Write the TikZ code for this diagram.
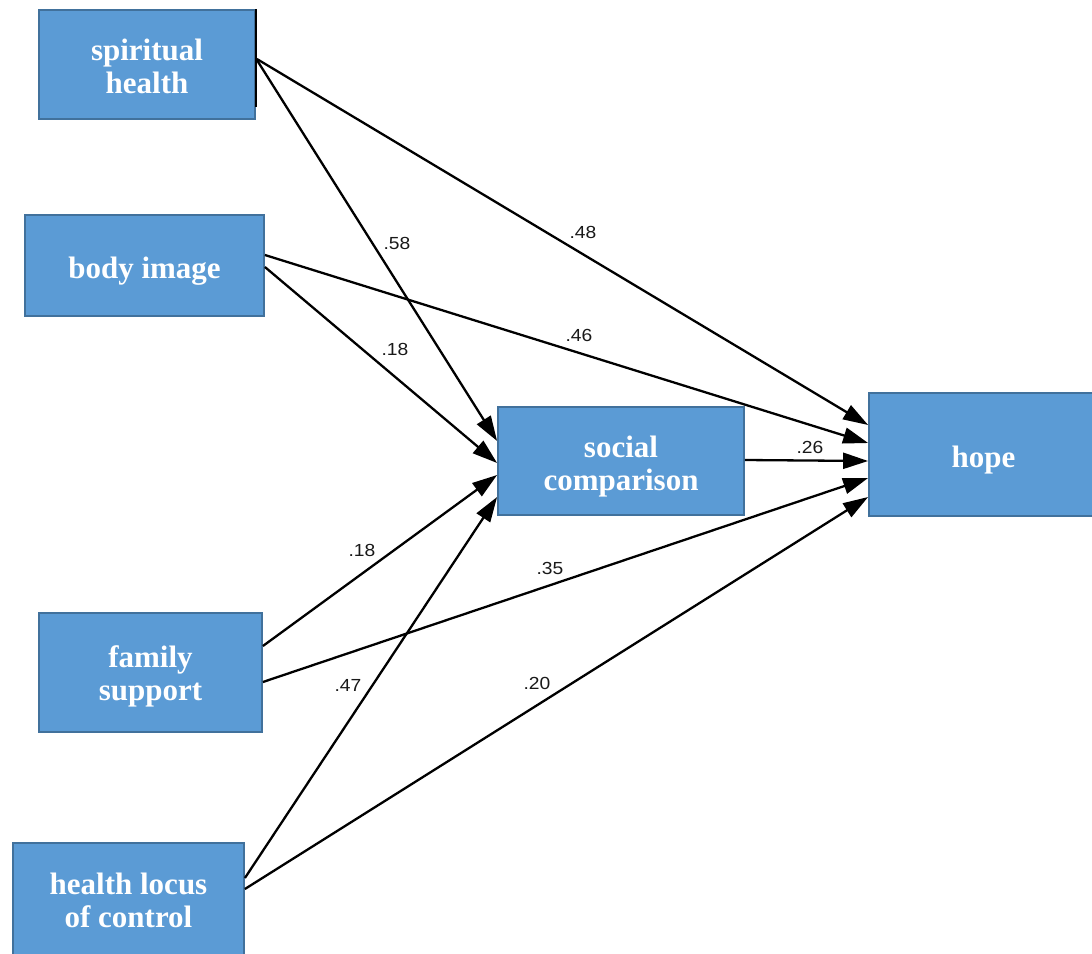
\documentclass[tikz,border=0pt]{standalone}
\usepackage{fontspec}
\setmainfont{Liberation Serif}
\newfontfamily\labelfont{Liberation Sans}
\usetikzlibrary{arrows.meta,calc}
\definecolor{boxfill}{HTML}{5B9BD5}
\definecolor{boxline}{HTML}{41719C}
\begin{document}
\begin{tikzpicture}[x=1pt,y=-1pt,
  varbox/.style={draw=boxline, fill=boxfill, line width=1.8pt, inner sep=0pt},
  vartext/.style={text=white, font=\fontsize{31}{33}\selectfont\bfseries, align=center, inner sep=0pt},
  path/.style={draw=black, line width=2.3pt, -{Triangle[length=25pt,width=16pt]}},
  coef/.style={font=\labelfont\fontsize{17.5}{17.5}\selectfont, text=black!90, xscale=1.1, inner sep=0pt}]
\useasboundingbox (0,0) rectangle (1092,953);
\clip (0,0) rectangle (1092,953);
\fill[white] (0,0) rectangle (1092,953);

\node[varbox, minimum width=216pt, minimum height=109pt] (sp) at (147,64.5) {};
\draw[black, line width=2pt] (256,9) -- (256,107);
\node[varbox, minimum width=239pt, minimum height=101pt] (bi) at (144.5,265.5) {};
\node[varbox, minimum width=246pt, minimum height=108pt] (sc) at (621,461) {};
\node[varbox, minimum width=229pt, minimum height=123pt] (hope) at (983.5,454.5) {};
\node[varbox, minimum width=223pt, minimum height=119pt] (fs) at (150.5,672.5) {};
\node[varbox, minimum width=231pt, minimum height=117pt] (hl) at (128.5,901.5) {};

\node[vartext] (spt) at ($(sp)+(0,2)$) {spiritual\\health};
\node[vartext] (bit) at ($(bi)+(0,6)$) {body image};
\node[vartext] (sct) at ($(sc)+(0,5.5)$) {social\\comparison};
\node[vartext] (hopet) at ($(hope)+(0,6)$) {hope};
\node[vartext] (fst) at ($(fs)+(0,4)$) {family\\support};
\node[vartext] (hlt) at ($(hl)+(0,-1)$) {health locus\\of control};

\draw[path] ($(sp.east)+(1,-5.5)$) -- ($(hope.west)+(0,-29.5)$);
\draw[path] ($(sp.east)+(1,-4.5)$) -- ($(sc.west)+(0,-20)$);
\draw[path] ($(bi.east)+(0,-10.5)$) -- ($(hope.west)+(0,-11.5)$);
\draw[path] ($(bi.east)+(0,1.5)$) -- ($(sc.west)+(0,2)$);
\draw[path] ($(sc.east)+(0,-1)$) -- ($(hope.west)+(0,6.5)$);
\draw[path] ($(fs.east)+(0,-26.5)$) -- ($(sc.west)+(0,14)$);
\draw[path] ($(fs.east)+(0,9.5)$) -- ($(hope.west)+(0,23.5)$);
\draw[path] ($(hl.east)+(0,-23.5)$) -- ($(sc.west)+(0,36)$);
\draw[path] ($(hl.east)+(0,-12.5)$) -- ($(hope.west)+(0,42.5)$);

\node[coef] (c1) at (397,243) {.58};
\node[coef] (c2) at (583,232) {.48};
\node[coef] (c3) at (579,335) {.46};
\node[coef] (c4) at (395,349) {.18};
\node[coef] (c5) at (810,447) {.26};
\node[coef] (c6) at (362,550) {.18};
\node[coef] (c7) at (550,568) {.35};
\node[coef] (c8) at (348,685) {.47};
\node[coef] (c9) at (537,683) {.20};
\end{tikzpicture}
\end{document}
